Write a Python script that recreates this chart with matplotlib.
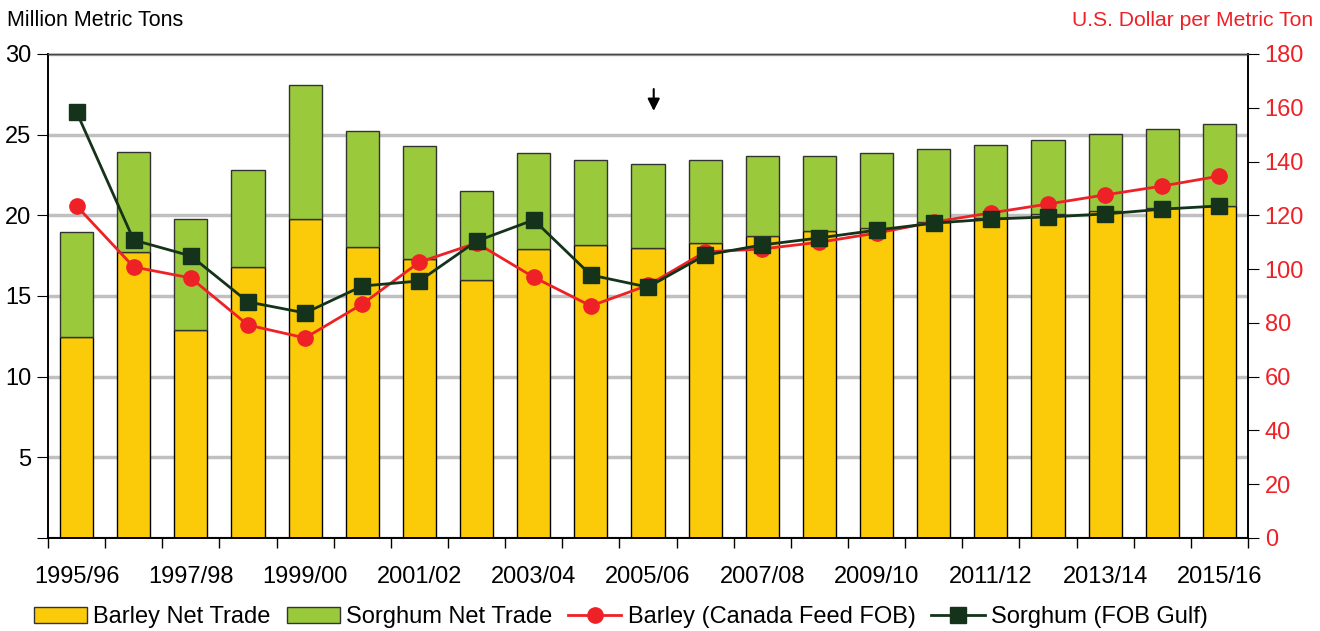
import numpy as np
import matplotlib.pyplot as plt
from matplotlib.patches import Patch
from matplotlib.lines import Line2D

plt.rcParams['font.family'] = ['Liberation Sans', 'DejaVu Sans']

years = ['1995/96', '1996/97', '1997/98', '1998/99', '1999/00', '2000/01', '2001/02',
         '2002/03', '2003/04', '2004/05', '2005/06', '2006/07', '2007/08', '2008/09',
         '2009/10', '2010/11', '2011/12', '2012/13', '2013/14', '2014/15', '2015/16']

# million metric tons
barley_trade = [12.46, 17.7, 12.9, 16.8, 19.78, 18.04, 17.3, 16.0, 17.9, 18.16, 17.98,
                18.3, 18.72, 19.03, 19.2, 19.6, 19.84, 20.1, 20.27, 20.46, 20.58]
total_trade = [18.97, 23.93, 19.78, 22.8, 28.08, 25.23, 24.3, 21.5, 23.87, 23.43, 23.19,
               23.43, 23.68, 23.68, 23.87, 24.1, 24.36, 24.67, 25.05, 25.36, 25.67]
sorghum_trade = [t - b for t, b in zip(total_trade, barley_trade)]

# US$ per metric ton
barley_price = [123.5, 100.8, 96.7, 79.2, 74.4, 87.0, 102.6, 109.7, 97.0, 86.3, 94.0,
                106.4, 107.5, 110.0, 113.4, 117.5, 120.9, 124.2, 127.6, 130.9, 134.6]
sorghum_price = [158.4, 110.8, 104.9, 87.8, 83.7, 93.7, 95.6, 110.4, 118.3, 97.8, 93.3,
                 105.2, 109.0, 111.6, 114.5, 117.1, 118.6, 119.4, 120.5, 122.3, 123.5]

yellow = '#FBCB0A'
green = '#9BC93C'
red = '#EE2127'
dkgreen = '#14331A'

x = np.arange(len(years))

fig = plt.figure(figsize=(13.2, 6.31), dpi=100)
ax = fig.add_axes([48/1320, 1-538/631, 1200/1320, 484/631])
ax2 = ax.twinx()

ax.bar(x, barley_trade, width=0.58, color=yellow, edgecolor='black', linewidth=1, zorder=2)
ax.bar(x, sorghum_trade, bottom=barley_trade, width=0.58, color=green,
       edgecolor='#333333', linewidth=1, zorder=2)

ax2.plot(x, barley_price, color=red, lw=2, marker='o', ms=11, zorder=3)
ax2.plot(x, sorghum_price, color=dkgreen, lw=2, marker='s', ms=11, zorder=4)

ax.set_xlim(-0.5, len(years) - 0.5)
ax.set_ylim(0, 30)
ax2.set_ylim(0, 180)
ax.set_yticks([0, 5, 10, 15, 20, 25, 30])
ax.set_yticklabels(['', '5', '10', '15', '20', '25', '30'])
ax2.set_yticks(np.arange(0, 181, 20))
ax.yaxis.grid(True, color='#C0C0C0', lw=2.5, zorder=0)
ax.set_axisbelow(True)

ax.set_xticks(x[::2])
ax.set_xticklabels(years[::2])
ax.set_xticks(np.arange(-0.5, len(years), 1), minor=True)
ax.tick_params(axis='x', which='major', length=0, labelsize=17, pad=20)
ax.tick_params(axis='x', which='minor', length=7, direction='out', width=1)
ax.tick_params(axis='y', length=8, direction='out', labelsize=17, pad=4)
ax2.tick_params(axis='y', length=8, direction='out', labelsize=17, labelcolor=red, pad=4)

for a in (ax, ax2):
    a.spines['top'].set_color('#444444')
    a.spines['top'].set_linewidth(1.0)
    for s in ('left', 'right', 'bottom'):
        a.spines[s].set_linewidth(1.2)

fig.text(7/1320, 1-20/631, 'Million Metric Tons', fontsize=15.5, va='center', ha='left')
fig.text(1313/1320, 1-20/631, 'U.S. Dollar per Metric Ton', fontsize=15.2, va='center',
         ha='right', color=red)

ax.annotate('', xy=(10.1, 26.3), xytext=(10.1, 28.0),
            arrowprops=dict(arrowstyle='-|>', color='black', lw=1.5, mutation_scale=18))

handles = [Patch(facecolor=yellow, edgecolor='#333333'),
           Patch(facecolor=green, edgecolor='#333333'),
           Line2D([], [], color=red, lw=2, marker='o', ms=11),
           Line2D([], [], color=dkgreen, lw=2, marker='s', ms=12)]
labels = ['Barley Net Trade', 'Sorghum Net Trade', 'Barley (Canada Feed FOB)', 'Sorghum (FOB Gulf)']
fig.legend(handles, labels, loc='center left', bbox_to_anchor=(34/1320, 1-617/631), ncol=4,
           frameon=False, fontsize=17, handlelength=2.25, handleheight=0.65,
           borderpad=0, borderaxespad=0, columnspacing=0.68, handletextpad=0.26)

fig.savefig('out.png', dpi=100)
